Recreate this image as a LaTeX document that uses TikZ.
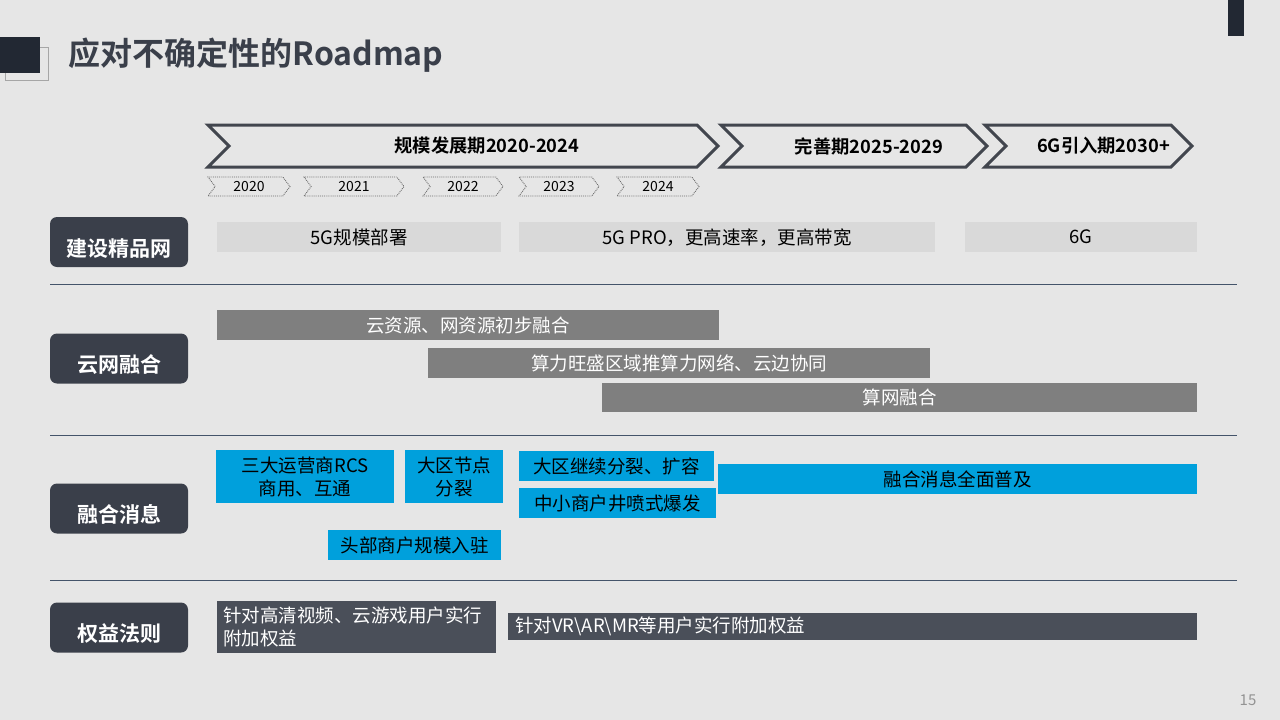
\documentclass[tikz,border=0pt]{standalone}
\usepackage{fontspec}
\setmainfont{Noto Sans CJK SC}[BoldFont={Noto Sans CJK SC Bold}]
\usetikzlibrary{shapes.symbols}
\definecolor{bg}{HTML}{E6E6E6}
\definecolor{ink}{HTML}{222833}
\definecolor{slate}{HTML}{3A3F4A}
\definecolor{chev}{HTML}{42464E}
\definecolor{rule}{HTML}{44546A}
\definecolor{lightbar}{HTML}{D9D9D9}
\definecolor{midbar}{HTML}{7F7F7F}
\definecolor{bluebar}{HTML}{00A0DC}
\definecolor{darkbar}{HTML}{4A4F59}
\begin{document}
\begin{tikzpicture}[x=1pt,y=-1pt]
        \tikzstyle{phase}=[signal, signal from=west, signal to=east, signal pointer angle=90, draw=chev, line width=3pt, minimum height=42pt, inner sep=0pt];
        \tikzstyle{phasetext}=[text=black, font=\bfseries\fontsize{18.3}{18.3}\selectfont];
        \tikzstyle{year}=[signal, signal from=west, signal to=east, signal pointer angle=106, draw=gray!85!black, densely dotted, line width=0.9pt, minimum height=19pt, inner sep=0pt, font=\fontsize{14}{14}\selectfont];
        \tikzstyle{topic}=[rounded corners=7pt, fill=slate, text=white, minimum width=138pt, minimum height=50pt, text height=28pt, text depth=0pt, font=\bfseries\fontsize{21}{21}\selectfont];
        \tikzstyle{bar}=[anchor=north west, inner sep=0pt, align=center, font=\fontsize{18.5}{23}\selectfont];
        \tikzstyle{sep}=[rule, line width=1pt];

        % page
        \path[fill=bg, use as bounding box] (0,0) rectangle (1280,720);
        \draw[gray!70, line width=1pt] (5,47) rectangle (48,80);
        \fill[ink] (0,37) rectangle (40,73);
        \fill[ink] (1228,0) rectangle (1244,36);
        \node[anchor=west, text=slate, font=\bfseries\fontsize{32}{32}\selectfont] (title) at (65,55) {应对不确定性的Roadmap};
        \node[text=gray!85, font=\fontsize{15}{15}\selectfont] (page) at (1248,700) {15};

        % phases
        \node[phase, minimum width=510pt] (p1) at (463,146) {};
        \node[phase, minimum width=266pt] (p2) at (854,146) {};
        \node[phase, minimum width=207pt] (p3) at (1088.5,146) {};
        \path (p1) -- +(24,0) node[phasetext] (t1) {规模发展期2020-2024};
        \path (p2) -- +(15,0) node[phasetext] (t2) {完善期2025-2029};
        \path (p3) -- +(15,0) node[phasetext] (t3) {6G引入期2030+};

        \node[year, minimum width=82pt] (y20) at (249,186.5) {2020};
        \node[year, minimum width=100pt] (y21) at (354,186.5) {2021};
        \node[year, minimum width=80pt] (y22) at (463,186.5) {2022};
        \node[year, minimum width=80pt] (y23) at (559,186.5) {2023};
        \node[year, minimum width=82pt] (y24) at (658,186.5) {2024};

        % rows
        \node[topic] (build) at (119,242) {建设精品网};
        \node[topic] (cloud) at (119,358.5) {云网融合};
        \node[topic] (msg) at (119,508.5) {融合消息};
        \node[topic] (right) at (119,627.5) {权益法则};

        \draw[sep] (50,284) -- (1237,284);
        \draw[sep] (50,435) -- (1237,435);
        \draw[sep] (50,580) -- (1237,580);

        \node[bar, fill=lightbar, minimum width=284pt, minimum height=30pt] (fiveg) at (217,222) {5G规模部署};
        \node[bar, fill=lightbar, minimum width=416pt, minimum height=30pt] (pro) at (519,222) {5G PRO，更高速率，更高带宽};
        \node[bar, fill=lightbar, minimum width=232pt, minimum height=30pt] (sixg) at (965,222) {6G};

        \node[bar, fill=midbar, text=white, minimum width=502pt, minimum height=30pt] (merge) at (217,310) {云资源、网资源初步融合};
        \node[bar, fill=midbar, text=white, minimum width=502pt, minimum height=30pt] (edge) at (428,348) {算力旺盛区域推算力网络、云边协同};
        \node[bar, fill=midbar, text=white, minimum width=595pt, minimum height=29pt] (compute) at (602,383) {算网融合};

        \node[bar, fill=bluebar, minimum width=178pt, minimum height=53pt] (rcs) at (216,450) {三大运营商RCS\\商用、互通};
        \node[bar, fill=bluebar, minimum width=98pt, minimum height=53pt] (split) at (405,450) {大区节点\\分裂};
        \node[bar, fill=bluebar, minimum width=195pt, minimum height=30pt] (expand) at (519,451) {大区继续分裂、扩容};
        \node[bar, fill=bluebar, minimum width=197pt, minimum height=30pt] (burst) at (519,488) {中小商户井喷式爆发};
        \node[bar, fill=bluebar, minimum width=173pt, minimum height=30pt] (head) at (328,530) {头部商户规模入驻};
        \node[bar, fill=bluebar, minimum width=479pt, minimum height=30pt] (full) at (718,464) {融合消息全面普及};

        \node[bar, fill=darkbar, text=white, align=left, inner xsep=6pt, text width=267pt, minimum height=52pt] (hd) at (217,601) {针对高清视频、云游戏用户实行\\附加权益};
        \node[bar, fill=darkbar, text=white, align=left, inner xsep=7pt, text width=675pt, minimum height=27pt] (vr) at (508,613) {针对VR\textbackslash AR\textbackslash MR等用户实行附加权益};
\end{tikzpicture}
\end{document}
